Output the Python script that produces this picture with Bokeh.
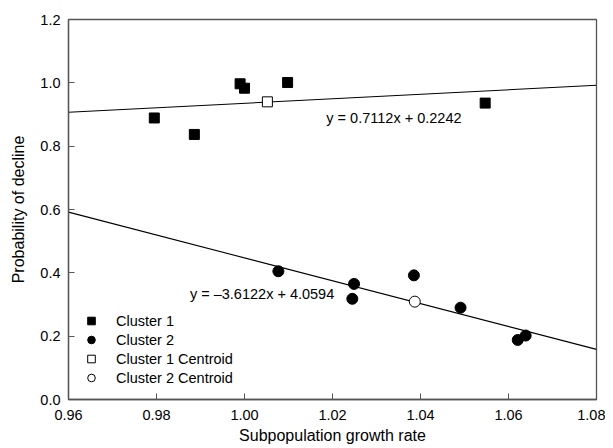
from bokeh.plotting import figure
from bokeh.models import FixedTicker, PrintfTickFormatter, Legend, LegendItem, ColumnDataSource
from bokeh.core.properties import value
from bokeh.embed import file_html
from bokeh.resources import INLINE

# Data
c1_x = [0.9795, 0.9886, 0.9990, 1.0000, 1.0098, 1.0547]
c1_y = [0.889, 0.837, 0.997, 0.983, 1.001, 0.936]
c2_x = [1.0077, 1.0249, 1.0245, 1.0385, 1.0491, 1.0621, 1.0639]
c2_y = [0.405, 0.365, 0.318, 0.392, 0.290, 0.188, 0.202]
cent1_x = [1.0052]
cent1_y = [0.940]
cent2_x = [1.0387]
cent2_y = [0.309]
fit_slopes = [0.7112, -3.6122]
fit_intercepts = [0.2242, 4.0594]
fit_labels = ["y = 0.7112x + 0.2242", "y = \u20133.6122x + 4.0594"]
x_ticks = [0.96, 0.98, 1.00, 1.02, 1.04, 1.06, 1.08]
y_ticks = [0.0, 0.2, 0.4, 0.6, 0.8, 1.0, 1.2]

X0, X1 = 0.96, 1.08
FONT = "Liberation Sans"

p = figure(width=605, height=448, x_range=(X0, X1), y_range=(0.0, 1.2),
           output_backend="svg", toolbar_location=None,
           min_border_left=68, min_border_right=9, min_border_top=19, min_border_bottom=49)
p.grid.visible = False
p.outline_line_color = "#555555"
p.outline_line_width = 1.3

for ax in (p.xaxis[0], p.yaxis[0]):
    ax.axis_line_color = "#555555"
    ax.axis_line_width = 1.3
    ax.major_tick_line_color = "#555555"
    ax.major_tick_in = 6
    ax.major_tick_out = 0
    ax.minor_tick_line_color = None
    ax.major_label_text_font = FONT
    ax.major_label_text_font_size = "14.5px"
    ax.major_label_text_color = "black"
    ax.axis_label_text_font = FONT
    ax.axis_label_text_font_size = "16px"
    ax.axis_label_text_font_style = "normal"
    ax.axis_label_text_color = "black"

p.xaxis.ticker = FixedTicker(ticks=x_ticks)
p.yaxis.ticker = FixedTicker(ticks=y_ticks)
p.xaxis.formatter = PrintfTickFormatter(format="%.2f")
p.yaxis.formatter = PrintfTickFormatter(format="%.1f")
p.xaxis.axis_label = "Subpopulation growth rate"
p.yaxis.axis_label = "Probability of decline"
p.xaxis.major_label_standoff = 10
p.xaxis.axis_label_standoff = 4
p.yaxis.major_label_standoff = 8
p.yaxis.axis_label_standoff = 10

# regression lines
for m, b in zip(fit_slopes, fit_intercepts):
    p.line([X0, X1], [m * X0 + b, m * X1 + b], line_color="black", line_width=1.1)

r1 = p.scatter(c1_x, c1_y, marker="square", size=10, fill_color="black", line_color="black")
r2 = p.scatter(c2_x, c2_y, marker="circle", size=11, fill_color="black", line_color="black")
r3 = p.scatter(cent1_x, cent1_y, marker="square", size=10, fill_color="white", line_color="black", line_width=1)
r4 = p.scatter(cent2_x, cent2_y, marker="circle", size=11, fill_color="white", line_color="black", line_width=1)

label_src = ColumnDataSource(dict(x=[1.0186, 0.9876], y=[0.8895, 0.3338], t=fit_labels))
p.text(x="x", y="y", text="t", source=label_src, text_font=value(FONT), text_font_size="14.5px",
       text_baseline="middle", text_align="left", text_color="black")

legend = Legend(items=[
    LegendItem(label="Cluster 1", renderers=[r1]),
    LegendItem(label="Cluster 2", renderers=[r2]),
    LegendItem(label="Cluster 1 Centroid", renderers=[r3]),
    LegendItem(label="Cluster 2 Centroid", renderers=[r4]),
], location=(13, 12))
legend.background_fill_alpha = 0
legend.border_line_color = None
legend.padding = 0
legend.margin = 0
legend.spacing = 0
legend.glyph_width = 20
legend.glyph_height = 19
legend.label_height = 19
legend.label_standoff = 15
legend.label_text_font = FONT
legend.label_text_font_size = "14.5px"
legend.label_text_color = "black"
p.add_layout(legend)

open("out.html", "w").write(file_html(p, INLINE))
